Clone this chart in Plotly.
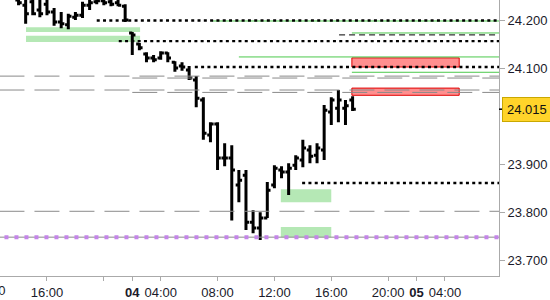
import plotly.graph_objects as go

# ---- data (bar slots: 30-min bars, slot 0 = 16:00 on day 03) ----
slots = list(range(-4, 44))
opens = [24.243, 24.232, 24.239, 24.222, 24.234, 24.218, 24.197, 24.191, 24.207, 24.211,
         24.232, 24.239, 24.241, 24.239, 24.237, 24.230, 24.174, 24.151, 24.130, 24.122,
         24.122, 24.132, 24.113, 24.105, 24.097, 24.076, 24.034, 23.961, 23.984, 23.913,
         23.913, 23.857, 23.877, 23.779, 23.767, 23.788, 23.857, 23.888, 23.884, 23.898,
         23.909, 23.930, 23.919, 23.930, 24.009, 24.017, 24.017, 24.034]
highs = [24.253, 24.249, 24.253, 24.251, 24.249, 24.226, 24.218, 24.214, 24.218, 24.239,
         24.247, 24.249, 24.249, 24.251, 24.247, 24.234, 24.176, 24.153, 24.134, 24.128,
         24.136, 24.134, 24.115, 24.113, 24.105, 24.084, 24.040, 23.988, 23.988, 23.944,
         23.940, 23.888, 23.888, 23.804, 23.800, 23.863, 23.898, 23.896, 23.902, 23.919,
         23.951, 23.940, 23.944, 24.024, 24.040, 24.055, 24.034, 24.042]
lows = [24.232, 24.193, 24.211, 24.207, 24.211, 24.189, 24.184, 24.182, 24.201, 24.205,
        24.222, 24.234, 24.232, 24.230, 24.230, 24.197, 24.128, 24.138, 24.113, 24.113,
        24.118, 24.113, 24.093, 24.095, 24.076, 24.019, 23.951, 23.946, 23.888, 23.896,
        23.783, 23.821, 23.763, 23.756, 23.742, 23.788, 23.850, 23.871, 23.836, 23.888,
        23.894, 23.902, 23.902, 23.909, 23.982, 23.988, 23.982, 24.011]
closes = [24.237, 24.214, 24.214, 24.214, 24.218, 24.197, 24.193, 24.209, 24.211, 24.232,
          24.237, 24.241, 24.237, 24.234, 24.232, 24.201, 24.170, 24.143, 24.122, 24.118,
          24.132, 24.122, 24.101, 24.103, 24.080, 24.038, 23.965, 23.984, 23.913, 23.913,
          23.888, 23.867, 23.779, 23.767, 23.788, 23.846, 23.892, 23.884, 23.892, 23.913,
          23.934, 23.917, 23.934, 24.013, 24.034, 24.034, 24.022, 24.015]
last_price = 24.015

tick_slots = [0, 8, 12, 16, 24, 32, 40, 48, 52, 56]
tick_labels = ["16:00", "", "<b>04</b>", "04:00", "08:00", "12:00", "16:00", "20:00", "<b>05</b>", "04:00"]
y_ticks = [23.7, 23.8, 23.9, 24.1, 24.2]

dotted_levels = [24.200, 24.157, 24.103, 23.861]
dotted_starts = [7.0, 10.1, 20.8, 35.9]
green_levels = [24.199, 24.174, 24.124, 24.092]
green_starts = [23.2, 42.9, 27.0, 42.9]
dashed_levels = [24.170]
dashed_starts = [41.1]
gray_full_levels = [24.084, 24.055, 23.802]
gray_late_levels = [24.080, 24.050]
gray_late_start = 12
purple_level = 23.748

red_zones_low = [24.103, 24.044]
red_zones_high = [24.122, 24.059]
red_zone_x = (42.9, 58.0)
green_zones_upper_low = [24.176, 24.155]
green_zones_upper_high = [24.186, 24.168]
green_zone_upper_x = (-2.95, 13.1)
green_zones_lower_low = [23.821, 23.748]
green_zones_lower_high = [23.848, 23.769]
green_zone_lower_x = (32.9, 40.0)

X_MIN, X_MAX = -6.61, 63.6
Y_MIN, Y_MAX = 23.667, 24.2428
FONT = "Liberation Sans"

fig = go.Figure()

def hline(y, x0, color, width, dash):
    fig.add_trace(go.Scatter(x=[x0, X_MAX + 5], y=[y, y], mode="lines",
                             line=dict(color=color, width=width, dash=dash),
                             hoverinfo="skip", showlegend=False))

for y in gray_full_levels:
    hline(y, X_MIN - 5, "#8a8a8a", 1, "25px,10px")
for y in gray_late_levels:
    hline(y, gray_late_start, "#8a8a8a", 1, "25px,10px")
hline(purple_level, X_MIN - 5, "#8a8a8a", 1, "solid")
hline(purple_level, X_MIN - 5, "#c385e8", 4, "4px,6px")
for y, s in zip(green_levels, green_starts):
    hline(y, s, "#4cc94c", 1, "solid")
for y, s in zip(dashed_levels, dashed_starts):
    hline(y, s, "#000000", 1, "6px,4px")
for y, s in zip(dotted_levels, dotted_starts):
    hline(y, s, "#000000", 2.3, "3px,3.3px")

fig.add_trace(go.Ohlc(x=slots, open=opens, high=highs, low=lows, close=closes,
                      increasing=dict(line=dict(color="black", width=3)),
                      decreasing=dict(line=dict(color="black", width=3)),
                      tickwidth=0.45, hoverinfo="skip", showlegend=False))

shapes = []
for lo, hi in zip(green_zones_upper_low, green_zones_upper_high):
    shapes.append(dict(type="rect", xref="x", yref="y", x0=green_zone_upper_x[0], x1=green_zone_upper_x[1],
                       y0=lo, y1=hi, fillcolor="#b5e8b5", line=dict(width=0), layer="below"))
for lo, hi in zip(green_zones_lower_low, green_zones_lower_high):
    shapes.append(dict(type="rect", xref="x", yref="y", x0=green_zone_lower_x[0], x1=green_zone_lower_x[1],
                       y0=lo, y1=hi, fillcolor="#b5e8b5", line=dict(width=0), layer="below"))
for lo, hi in zip(red_zones_low, red_zones_high):
    shapes.append(dict(type="rect", xref="x", yref="y", x0=red_zone_x[0], x1=red_zone_x[1],
                       y0=lo, y1=hi, fillcolor="#ff8f8f", line=dict(color="#e00000", width=1), layer="below"))
# current price tick on axis
shapes.append(dict(type="line", xref="paper", yref="y", x0=1.0, x1=1.018, y0=last_price, y1=last_price,
                   line=dict(color="black", width=1.5)))

annotations = [
    dict(xref="paper", yref="y", x=1.0, y=last_price, xanchor="left", yanchor="middle", xshift=3,
         text=f"{last_price:.3f}", showarrow=False, bgcolor="#ffd42a", bordercolor="#c9a800",
         borderwidth=1, borderpad=4, font=dict(family=FONT, size=13, color="#111")),
    dict(xref="paper", yref="paper", x=-0.0201, y=0, yanchor="top", xanchor="center", yshift=-5,
         text="12:00", showarrow=False, font=dict(family=FONT, size=13, color="#1a1a2a")),
]

fig.update_layout(
    width=550, height=300, margin=dict(l=0, r=51, t=0, b=24),
    paper_bgcolor="white", plot_bgcolor="white",
    shapes=shapes, annotations=annotations, showlegend=False,
    font=dict(family=FONT, size=13, color="#1a1a2a"),
    xaxis=dict(range=[X_MIN, X_MAX], tickmode="array", tickvals=tick_slots, ticktext=tick_labels,
               showgrid=False, zeroline=False, showline=True, linecolor="#aaaaaa", linewidth=1,
               ticks="outside", ticklen=4, tickcolor="#aaaaaa", rangeslider=dict(visible=False),
               tickfont=dict(family=FONT, size=13, color="#1a1a2a"), fixedrange=True),
    yaxis=dict(range=[Y_MIN, Y_MAX], side="right", tickmode="array", tickvals=y_ticks,
               tickformat=".3f", showgrid=False, zeroline=False, showline=True, linecolor="#aaaaaa",
               linewidth=1, ticks="outside", ticklen=5, tickcolor="#aaaaaa",
               tickfont=dict(family=FONT, size=13, color="#1a1a2a"), fixedrange=True),
)

fig.write_html("out.html")
